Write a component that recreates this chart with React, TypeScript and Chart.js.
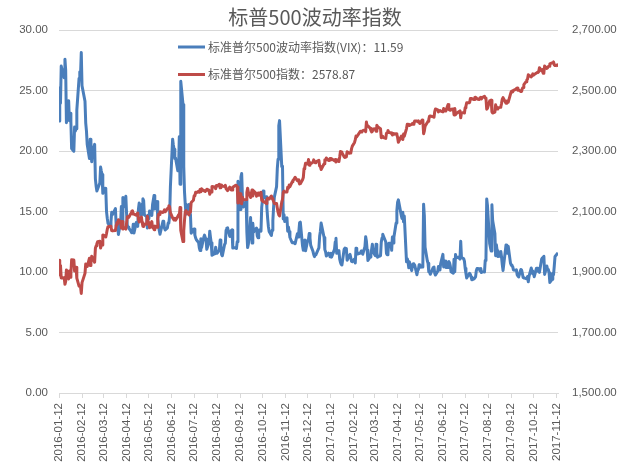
import React, { useEffect, useRef } from "react";
import { Chart, registerables } from "chart.js";

Chart.register(...registerables);

const chartTitle = "标普500波动率指数";
const vixName = "标准普尔500波动率指数(VIX)";
const spxName = "标准普尔500指数";

const tickLabels = [
  "2016-01-12", "2016-02-12", "2016-03-12", "2016-04-12", "2016-05-12", "2016-06-12",
  "2016-07-12", "2016-08-12", "2016-09-12", "2016-10-12", "2016-11-12", "2016-12-12",
  "2017-01-12", "2017-02-12", "2017-03-12", "2017-04-12", "2017-05-12", "2017-06-12",
  "2017-07-12", "2017-08-12", "2017-09-12", "2017-10-12", "2017-11-12",
];

// trading months and their trading days
const months = [
  "2016-01", "2016-02", "2016-03", "2016-04", "2016-05", "2016-06",
  "2016-07", "2016-08", "2016-09", "2016-10", "2016-11", "2016-12",
  "2017-01", "2017-02", "2017-03", "2017-04", "2017-05", "2017-06",
  "2017-07", "2017-08", "2017-09", "2017-10", "2017-11",
];

const monthDays = [
  [12, 13, 14, 15, 19, 20, 21, 22, 25, 26, 27, 28, 29],
  [1, 2, 3, 4, 5, 8, 9, 10, 11, 12, 16, 17, 18, 19, 22, 23, 24, 25, 26, 29],
  [1, 2, 3, 4, 7, 8, 9, 10, 11, 14, 15, 16, 17, 18, 21, 22, 23, 24, 28, 29, 30, 31],
  [1, 4, 5, 6, 7, 8, 11, 12, 13, 14, 15, 18, 19, 20, 21, 22, 25, 26, 27, 28, 29],
  [2, 3, 4, 5, 6, 9, 10, 11, 12, 13, 16, 17, 18, 19, 20, 23, 24, 25, 26, 27, 31],
  [1, 2, 3, 6, 7, 8, 9, 10, 13, 14, 15, 16, 17, 20, 21, 22, 23, 24, 27, 28, 29, 30],
  [1, 5, 6, 7, 8, 11, 12, 13, 14, 15, 18, 19, 20, 21, 22, 25, 26, 27, 28, 29],
  [1, 2, 3, 4, 5, 8, 9, 10, 11, 12, 15, 16, 17, 18, 19, 22, 23, 24, 25, 26, 29, 30, 31],
  [1, 2, 6, 7, 8, 9, 12, 13, 14, 15, 16, 19, 20, 21, 22, 23, 26, 27, 28, 29, 30],
  [3, 4, 5, 6, 7, 10, 11, 12, 13, 14, 17, 18, 19, 20, 21, 24, 25, 26, 27, 28, 31],
  [1, 2, 3, 4, 7, 8, 9, 10, 11, 14, 15, 16, 17, 18, 21, 22, 23, 25, 28, 29, 30],
  [1, 2, 5, 6, 7, 8, 9, 12, 13, 14, 15, 16, 19, 20, 21, 22, 23, 27, 28, 29, 30],
  [3, 4, 5, 6, 9, 10, 11, 12, 13, 17, 18, 19, 20, 23, 24, 25, 26, 27, 30, 31],
  [1, 2, 3, 6, 7, 8, 9, 10, 13, 14, 15, 16, 17, 21, 22, 23, 24, 27, 28],
  [1, 2, 3, 6, 7, 8, 9, 10, 13, 14, 15, 16, 17, 20, 21, 22, 23, 24, 27, 28, 29, 30, 31],
  [3, 4, 5, 6, 7, 10, 11, 12, 13, 17, 18, 19, 20, 21, 24, 25, 26, 27, 28],
  [1, 2, 3, 4, 5, 8, 9, 10, 11, 12, 15, 16, 17, 18, 19, 22, 23, 24, 25, 26, 30, 31],
  [1, 2, 5, 6, 7, 8, 9, 12, 13, 14, 15, 16, 19, 20, 21, 22, 23, 26, 27, 28, 29, 30],
  [3, 5, 6, 7, 10, 11, 12, 13, 14, 17, 18, 19, 20, 21, 24, 25, 26, 27, 28, 31],
  [1, 2, 3, 4, 7, 8, 9, 10, 11, 14, 15, 16, 17, 18, 21, 22, 23, 24, 25, 28, 29, 30, 31],
  [1, 5, 6, 7, 8, 11, 12, 13, 14, 15, 18, 19, 20, 21, 22, 25, 26, 27, 28, 29],
  [2, 3, 4, 5, 6, 9, 10, 11, 12, 13, 16, 17, 18, 19, 20, 23, 24, 25, 26, 27, 30, 31],
  [1, 2, 3, 6, 7, 8, 9, 10, 13, 14],
];

// VIX (left axis), per month
const vixValues = [
  [22.47, 25.22, 23.95, 27.02, 26.05, 27.59, 26.69, 22.34, 24.15, 22.5, 23.11, 22.42, 20.2],
  [19.98, 21.98, 21.65, 21.84, 23.38, 26.0, 26.54, 26.29, 28.14, 25.4, 24.11, 22.31, 21.64, 20.53, 19.38, 20.98, 20.72, 19.11, 19.81, 20.55],
  [17.7, 17.09, 16.7, 16.86, 17.35, 18.67, 18.34, 18.05, 16.5, 16.92, 16.84, 14.99, 14.44, 14.02, 13.79, 14.17, 14.94, 14.74, 15.24, 13.82, 13.56, 13.95],
  [13.1, 14.12, 15.42, 13.84, 16.16, 15.36, 16.26, 14.85, 13.84, 13.72, 13.62, 13.35, 13.24, 13.28, 13.95, 13.22, 14.08, 13.96, 13.77, 15.22, 15.7],
  [14.68, 15.6, 16.05, 15.91, 14.72, 14.57, 13.63, 14.69, 14.41, 15.04, 14.68, 15.57, 15.95, 16.33, 15.2, 15.82, 14.42, 13.9, 13.43, 13.12, 14.19],
  [14.2, 13.63, 13.47, 13.65, 14.05, 14.08, 14.64, 17.03, 20.97, 20.5, 20.14, 19.37, 19.41, 18.37, 18.48, 21.17, 17.25, 25.76, 23.85, 18.75, 16.64, 15.63],
  [14.77, 15.58, 14.96, 14.76, 13.2, 13.54, 13.55, 13.04, 12.82, 12.67, 12.44, 11.97, 11.77, 12.74, 12.02, 12.87, 13.05, 12.83, 12.72, 11.87],
  [12.44, 13.37, 12.86, 12.42, 11.39, 11.5, 11.66, 12.05, 11.68, 11.55, 11.81, 12.64, 12.19, 11.43, 11.34, 12.27, 12.38, 13.45, 13.63, 13.65, 12.94, 13.12, 13.42],
  [13.48, 11.98, 12.02, 11.94, 12.51, 17.5, 15.16, 17.85, 18.14, 16.3, 15.37, 15.53, 15.92, 13.3, 12.02, 12.29, 14.5, 13.1, 12.39, 14.02, 13.29],
  [13.57, 13.63, 12.99, 12.84, 13.48, 13.38, 15.36, 15.91, 16.69, 16.12, 16.21, 15.28, 14.41, 13.75, 13.34, 13.02, 13.46, 14.24, 15.36, 16.19, 17.06],
  [18.56, 19.32, 22.08, 22.51, 18.71, 18.74, 14.38, 14.74, 14.17, 14.48, 13.37, 13.72, 13.35, 12.85, 12.42, 12.41, 12.43, 12.34, 13.15, 12.9, 13.33],
  [14.07, 14.12, 12.14, 11.79, 12.22, 12.64, 11.75, 12.64, 12.72, 13.19, 12.79, 12.2, 11.71, 11.45, 11.27, 11.43, 11.44, 11.99, 12.95, 13.37, 14.04],
  [12.85, 11.85, 11.67, 11.32, 11.56, 11.49, 11.26, 11.54, 11.23, 11.87, 12.48, 12.78, 11.54, 11.77, 11.07, 10.81, 10.63, 10.58, 11.88, 11.99],
  [11.81, 11.93, 10.97, 11.37, 11.45, 11.45, 10.88, 10.85, 11.07, 10.74, 11.97, 11.76, 11.49, 11.57, 11.74, 11.71, 11.47, 12.09, 12.92],
  [12.54, 11.81, 10.96, 11.24, 11.45, 11.86, 12.3, 11.66, 11.35, 12.3, 11.63, 11.21, 11.28, 11.34, 12.47, 12.81, 13.12, 12.96, 12.5, 11.53, 11.42, 11.54, 12.37],
  [12.38, 11.79, 12.89, 12.39, 12.87, 14.05, 15.07, 15.77, 15.96, 14.66, 14.42, 14.93, 14.15, 14.63, 10.84, 11.1, 10.85, 10.36, 10.82],
  [10.11, 10.59, 10.68, 10.46, 10.57, 9.77, 10.11, 10.21, 10.6, 10.4, 10.42, 10.65, 15.59, 14.66, 12.04, 10.93, 10.72, 10.02, 9.99, 9.81, 10.38, 10.41],
  [9.89, 9.75, 10.07, 10.45, 10.39, 10.16, 10.7, 11.46, 10.42, 10.64, 10.9, 10.38, 10.37, 10.86, 10.75, 10.48, 10.02, 9.9, 11.06, 10.03, 11.44, 11.18],
  [11.22, 11.07, 12.54, 11.19, 11.11, 10.89, 10.3, 9.9, 9.51, 9.82, 9.89, 9.79, 9.58, 9.36, 9.43, 9.43, 9.6, 10.11, 10.29, 10.26],
  [10.09, 10.28, 9.95, 10.03, 10.0, 10.96, 11.11, 16.04, 15.51, 12.33, 12.04, 11.74, 15.55, 14.26, 13.19, 11.35, 12.25, 11.78, 11.28, 11.32, 11.7, 11.22, 10.59],
  [10.13, 12.23, 11.63, 11.55, 12.12, 10.73, 10.58, 10.5, 10.44, 10.17, 10.15, 10.18, 9.78, 9.67, 9.59, 10.21, 10.17, 9.87, 9.55, 9.51],
  [9.45, 9.51, 9.63, 9.19, 9.65, 10.33, 10.08, 9.85, 9.91, 9.61, 10.31, 10.31, 10.07, 10.05, 9.97, 11.07, 11.16, 11.23, 11.3, 9.8, 10.5, 10.18],
  [10.2, 9.93, 9.14, 9.4, 9.89, 9.78, 10.5, 11.29, 11.5, 11.59],
];

// S&P 500 (right axis), per month
const spxValues = [
  [1938.68, 1890.28, 1921.84, 1880.33, 1881.33, 1859.33, 1868.99, 1906.9, 1877.08, 1903.63, 1882.95, 1893.36, 1940.24],
  [1939.38, 1903.03, 1912.53, 1915.45, 1880.05, 1853.44, 1852.21, 1851.86, 1829.08, 1864.78, 1895.58, 1926.82, 1917.83, 1917.78, 1945.5, 1921.27, 1929.8, 1951.7, 1948.05, 1932.23],
  [1978.35, 1986.45, 1993.4, 1999.99, 2001.76, 1979.26, 1989.26, 1989.57, 2022.19, 2019.64, 2015.93, 2027.22, 2040.59, 2049.58, 2051.6, 2049.8, 2036.71, 2035.94, 2037.05, 2055.01, 2063.95, 2059.74],
  [2072.78, 2066.13, 2045.17, 2066.66, 2041.91, 2047.6, 2041.99, 2061.72, 2082.42, 2082.78, 2080.73, 2094.34, 2100.8, 2102.4, 2091.48, 2091.58, 2087.79, 2091.7, 2095.15, 2075.81, 2065.3],
  [2081.43, 2063.37, 2051.12, 2050.63, 2057.14, 2058.69, 2084.39, 2064.46, 2064.11, 2046.61, 2066.66, 2047.21, 2047.63, 2040.04, 2052.32, 2048.04, 2076.06, 2090.54, 2090.1, 2099.06, 2096.95],
  [2099.33, 2105.26, 2099.13, 2109.41, 2112.13, 2119.12, 2115.48, 2096.07, 2079.06, 2075.32, 2071.5, 2077.99, 2071.22, 2083.25, 2088.9, 2085.45, 2113.32, 2037.41, 2000.54, 2036.09, 2070.77, 2098.86],
  [2102.95, 2088.55, 2099.73, 2097.9, 2129.9, 2137.16, 2152.14, 2152.43, 2163.75, 2161.74, 2166.89, 2163.78, 2173.02, 2165.17, 2175.03, 2168.48, 2169.18, 2166.58, 2170.06, 2173.6],
  [2170.84, 2157.03, 2163.79, 2164.25, 2182.87, 2180.89, 2181.74, 2175.49, 2185.79, 2184.05, 2190.15, 2178.15, 2182.22, 2187.02, 2183.87, 2182.64, 2186.9, 2175.44, 2172.47, 2169.04, 2180.38, 2176.12, 2170.95],
  [2170.86, 2179.98, 2186.48, 2186.16, 2181.3, 2127.81, 2159.04, 2127.02, 2125.77, 2147.26, 2139.16, 2139.12, 2139.76, 2163.12, 2177.18, 2164.69, 2146.1, 2159.93, 2171.37, 2151.13, 2168.27],
  [2161.2, 2150.49, 2159.73, 2160.77, 2153.74, 2163.66, 2136.73, 2139.18, 2132.55, 2132.98, 2126.5, 2139.6, 2144.29, 2141.34, 2141.16, 2151.33, 2143.16, 2139.43, 2133.04, 2126.41, 2126.15],
  [2111.72, 2097.94, 2088.66, 2085.18, 2131.52, 2139.56, 2163.26, 2167.48, 2164.45, 2164.2, 2180.39, 2176.94, 2187.12, 2181.9, 2198.18, 2202.94, 2204.72, 2213.35, 2201.72, 2204.66, 2198.81],
  [2191.08, 2191.95, 2204.71, 2212.23, 2241.35, 2246.19, 2259.53, 2256.96, 2271.72, 2253.28, 2262.03, 2258.07, 2262.53, 2270.76, 2265.18, 2260.96, 2263.79, 2268.88, 2249.92, 2249.26, 2238.83],
  [2257.83, 2270.75, 2269.0, 2276.98, 2268.9, 2268.9, 2275.32, 2270.44, 2274.64, 2267.89, 2271.89, 2263.69, 2271.31, 2265.2, 2280.07, 2298.37, 2296.68, 2294.69, 2280.9, 2278.87],
  [2279.55, 2280.85, 2297.42, 2292.56, 2293.08, 2294.67, 2307.87, 2316.1, 2328.25, 2337.58, 2349.25, 2347.22, 2351.16, 2365.38, 2362.82, 2363.81, 2367.34, 2369.75, 2363.64],
  [2395.96, 2381.92, 2383.12, 2375.31, 2368.39, 2362.98, 2364.87, 2372.6, 2373.47, 2365.45, 2385.26, 2381.38, 2378.25, 2373.47, 2344.02, 2348.45, 2345.96, 2343.98, 2341.59, 2358.57, 2361.13, 2368.06, 2362.72],
  [2358.84, 2360.16, 2352.95, 2357.49, 2355.54, 2357.16, 2353.78, 2344.93, 2328.95, 2349.01, 2342.19, 2338.17, 2355.84, 2348.69, 2374.15, 2388.61, 2387.45, 2388.77, 2384.2],
  [2388.33, 2391.17, 2388.13, 2389.52, 2399.29, 2399.38, 2396.92, 2399.63, 2394.44, 2390.9, 2402.32, 2400.67, 2357.03, 2365.72, 2381.73, 2394.02, 2398.42, 2404.39, 2415.07, 2415.82, 2412.91, 2411.8],
  [2430.06, 2439.07, 2436.1, 2429.33, 2433.14, 2433.79, 2431.77, 2429.39, 2440.35, 2437.92, 2432.46, 2433.15, 2453.46, 2437.03, 2435.61, 2434.5, 2438.3, 2439.07, 2419.38, 2440.69, 2419.7, 2423.41],
  [2429.01, 2432.54, 2409.75, 2425.18, 2427.43, 2425.53, 2443.25, 2447.83, 2459.27, 2459.14, 2460.61, 2473.83, 2473.45, 2472.54, 2469.91, 2477.13, 2477.83, 2475.42, 2472.1, 2470.3],
  [2476.35, 2477.57, 2472.16, 2476.83, 2480.91, 2474.92, 2474.02, 2438.21, 2441.32, 2465.84, 2464.61, 2468.11, 2430.01, 2425.55, 2428.37, 2452.51, 2444.04, 2438.97, 2443.05, 2444.24, 2446.3, 2457.59, 2471.65],
  [2476.55, 2457.85, 2465.54, 2465.1, 2461.43, 2488.11, 2496.48, 2498.37, 2495.62, 2500.23, 2503.87, 2506.65, 2508.24, 2500.6, 2502.22, 2496.66, 2496.84, 2507.04, 2510.06, 2519.36],
  [2529.12, 2534.58, 2537.74, 2552.07, 2549.33, 2544.73, 2550.64, 2555.24, 2550.93, 2553.17, 2557.64, 2559.36, 2561.26, 2562.1, 2575.21, 2564.98, 2569.13, 2557.15, 2560.4, 2581.07, 2572.83, 2575.26],
  [2579.36, 2579.85, 2587.84, 2591.13, 2590.64, 2594.38, 2584.62, 2582.3, 2584.84, 2578.87],
];

const DAY_MS = 86400000;
const FONT_TICK = '"Liberation Sans", Arial, sans-serif';
const FONT_CJK = '"Noto Sans CJK SC", "Noto Sans", sans-serif';

export default function App() {
  const canvasRef = useRef<HTMLCanvasElement | null>(null);

  useEffect(() => {
    document.body.style.margin = "0";
    const canvas = canvasRef.current;
    if (!canvas) return;

    const t0 = Date.parse(tickLabels[0]);
    const toDay = (s: string) => Math.round((Date.parse(s) - t0) / DAY_MS);

    const vixPts: { x: number; y: number }[] = [];
    const spxPts: { x: number; y: number }[] = [];
    months.forEach((m, mi) => {
      const days = monthDays[mi];
      days.forEach((d, di) => {
        const x = toDay(`${m}-${String(d).padStart(2, "0")}`);
        if (vixValues[mi][di] !== undefined) vixPts.push({ x, y: vixValues[mi][di] });
        if (spxValues[mi][di] !== undefined) spxPts.push({ x, y: spxValues[mi][di] });
      });
    });
    const tickDays = tickLabels.map(toDay);
    const xMax = Math.max(vixPts[vixPts.length - 1].x, spxPts[spxPts.length - 1].x);
    const lastVix = vixPts[vixPts.length - 1].y.toFixed(2);
    const lastSpx = spxPts[spxPts.length - 1].y.toFixed(2);

    const legendItems = [
      { color: "#4A7EBB", text: `${vixName}：${lastVix}` },
      { color: "#BE4B48", text: `${spxName}：${lastSpx}` },
    ];

    const overlay = {
      id: "overlay",
      afterDraw(chart: any) {
        const ctx = chart.ctx as CanvasRenderingContext2D;
        const area = chart.chartArea;
        ctx.save();
        ctx.fillStyle = "#595959";
        ctx.font = `20px ${FONT_CJK}`;
        ctx.textAlign = "center";
        ctx.textBaseline = "middle";
        ctx.fillText(chartTitle, chart.width / 2, 17);

        ctx.font = `12px ${FONT_CJK}`;
        ctx.textAlign = "left";
        legendItems.forEach((it, i) => {
          const y = area.top + 17 + i * 27.5;
          const x0 = area.left + 119;
          ctx.strokeStyle = it.color;
          ctx.lineWidth = 3;
          ctx.lineCap = "butt";
          ctx.beginPath();
          ctx.moveTo(x0, y);
          ctx.lineTo(x0 + 27, y);
          ctx.stroke();
          ctx.fillStyle = "#595959";
          ctx.fillText(it.text, x0 + 30, y);
        });
        ctx.restore();
      },
    };

    const tickFont = { family: FONT_TICK, size: 11.5 };

    const chart = new Chart(canvas, {
      type: "line",
      data: {
        datasets: [
          {
            label: vixName,
            data: vixPts,
            yAxisID: "y",
            borderColor: "#4A7EBB",
            backgroundColor: "#4A7EBB",
            borderWidth: 3,
            pointRadius: 0,
            borderJoinStyle: "round",
            tension: 0,
            order: 1,
          },
          {
            label: spxName,
            data: spxPts,
            yAxisID: "y1",
            borderColor: "#BE4B48",
            backgroundColor: "#BE4B48",
            borderWidth: 3,
            pointRadius: 0,
            borderJoinStyle: "round",
            tension: 0,
            order: 0,
          },
        ],
      },
      options: {
        animation: false,
        responsive: false,
        maintainAspectRatio: false,
        events: [],
        layout: { padding: { top: 30, left: 0, right: 0, bottom: 0 } },
        plugins: {
          legend: { display: false },
          title: { display: false },
          tooltip: { enabled: false },
        },
        scales: {
          x: {
            type: "linear",
            min: 0,
            max: xMax,
            afterBuildTicks: (scale: any) => {
              scale.ticks = tickDays.map((v) => ({ value: v }));
            },
            afterFit: (scale: any) => {
              scale.height = 73;
            },
            grid: {
              drawOnChartArea: false,
              drawTicks: true,
              tickLength: 5,
              color: "#d9d9d9",
            },
            border: { display: true, color: "#d9d9d9" },
            ticks: {
              autoSkip: false,
              maxRotation: 90,
              minRotation: 90,
              padding: 5,
              color: "#595959",
              font: tickFont,
              callback: (_v: any, i: number) => tickLabels[i],
            },
          },
          y: {
            position: "left",
            min: 0,
            max: 30,
            afterFit: (scale: any) => {
              scale.width = 59;
            },
            grid: { color: "#d9d9d9", drawTicks: false },
            border: { display: false },
            ticks: {
              stepSize: 5,
              padding: 11,
              color: "#595959",
              font: tickFont,
              callback: (v: any) => Number(v).toFixed(2),
            },
          },
          y1: {
            position: "right",
            min: 1500,
            max: 2700,
            afterFit: (scale: any) => {
              scale.width = 72;
            },
            grid: { drawOnChartArea: false, drawTicks: false },
            border: { display: false },
            ticks: {
              stepSize: 200,
              padding: 14,
              color: "#595959",
              font: tickFont,
              callback: (v: any) =>
                Number(v).toLocaleString("en-US", {
                  minimumFractionDigits: 2,
                  maximumFractionDigits: 2,
                }),
            },
          },
        },
      } as any,
      plugins: [overlay],
    });

    return () => chart.destroy();
  }, []);

  return (
    <div style={{ width: 630, height: 466, background: "#fff" }}>
      <canvas ref={canvasRef} width={630} height={466} style={{ display: "block" }} />
    </div>
  );
}
